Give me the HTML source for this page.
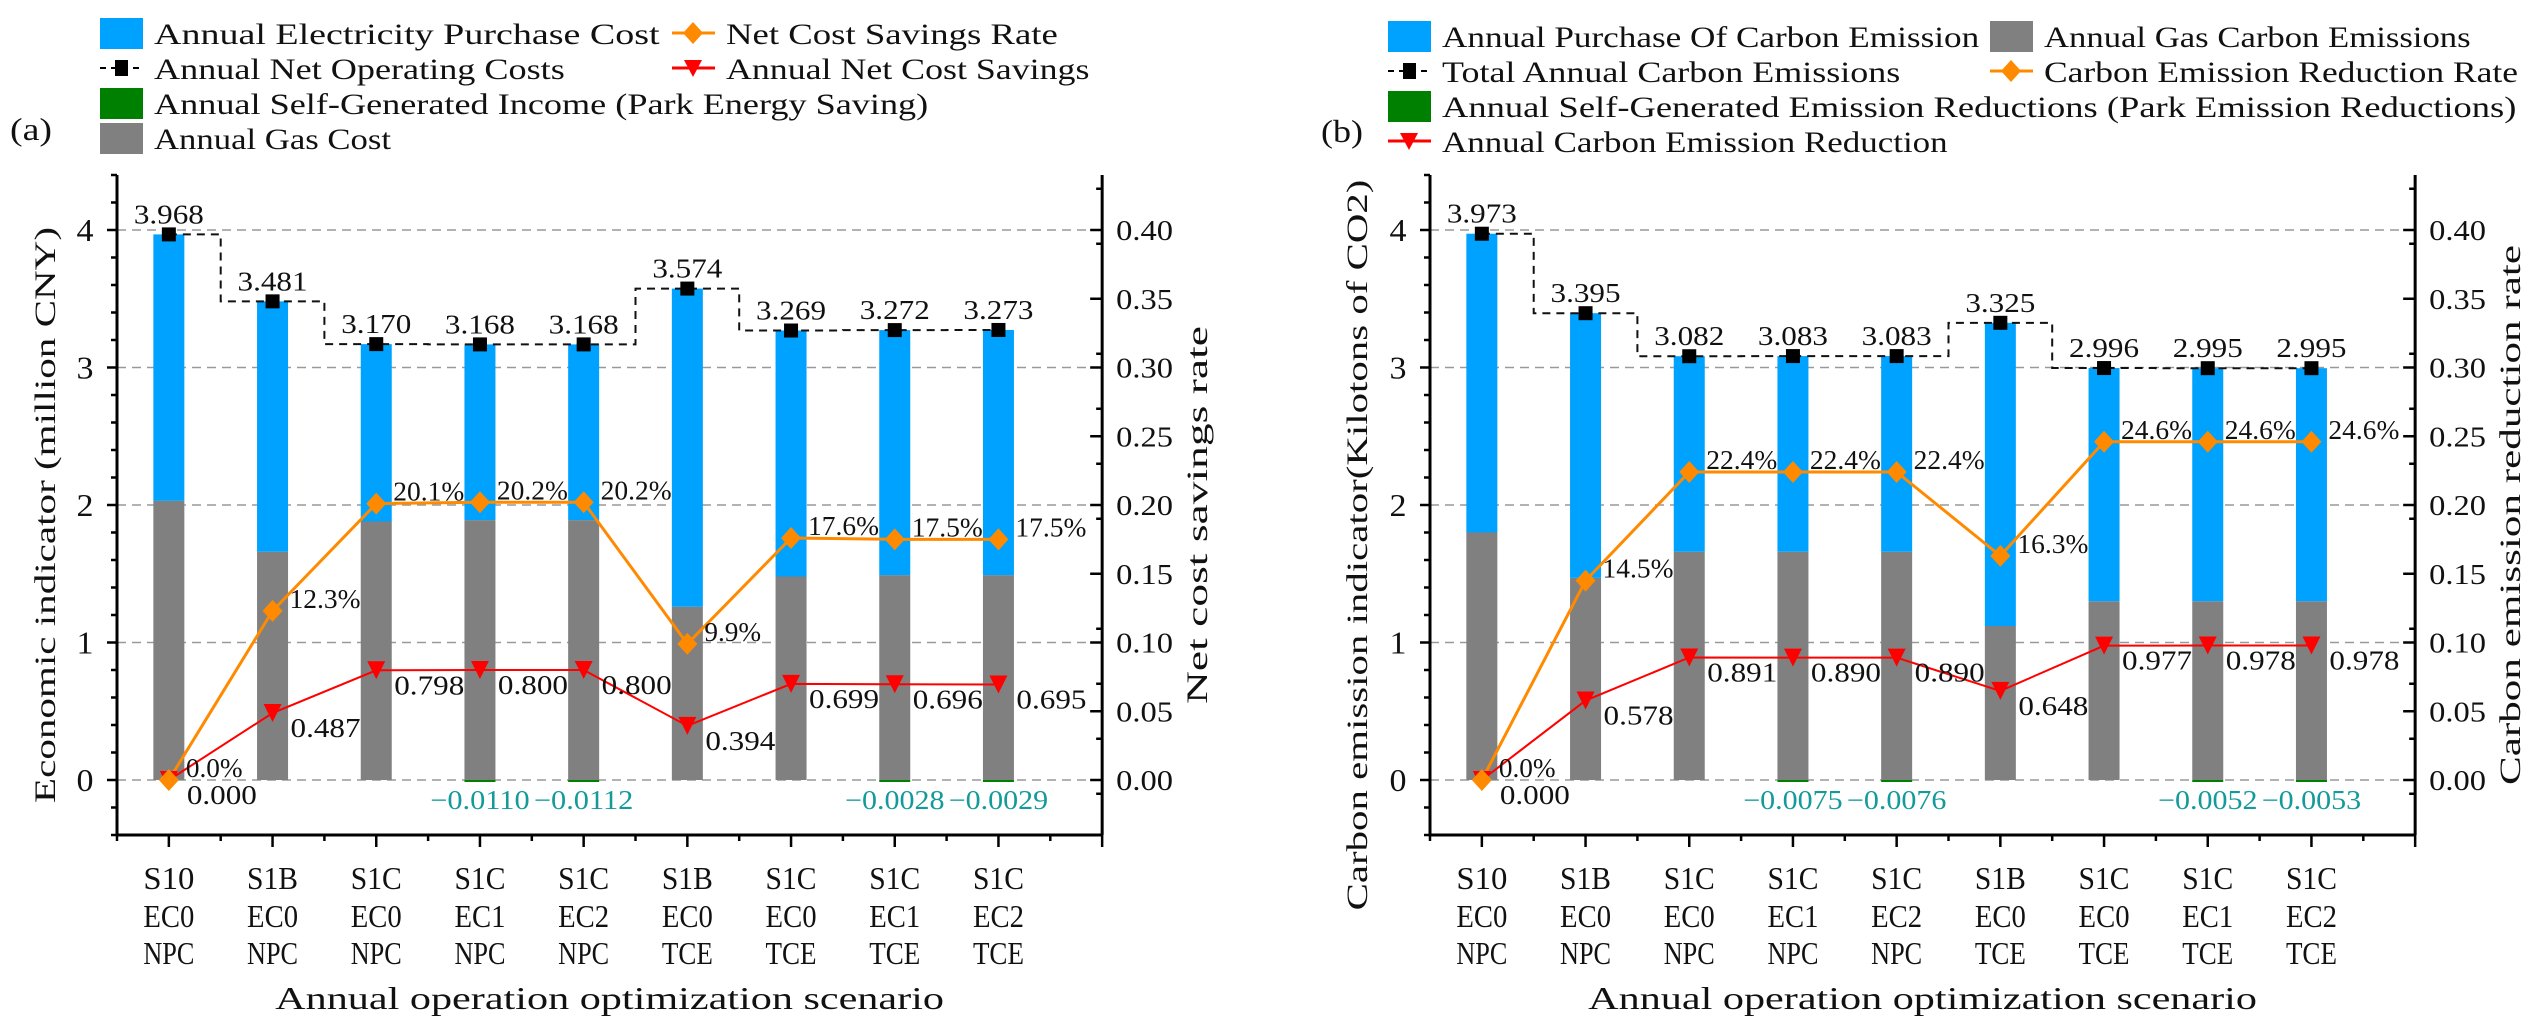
<!DOCTYPE html>
<html><head><meta charset="utf-8">
<style>
html,body{margin:0;padding:0;background:#fff;}
svg{display:block;}
text{font-family:"Liberation Serif","Noto Serif CJK SC",serif;fill:#111;}
</style></head>
<body>
<svg id="fig" width="2538" height="1030" viewBox="0 0 2538 1030" xmlns="http://www.w3.org/2000/svg"></svg>
<script>
// ---- shared categories ----
const catLine1 = ['S10','S1B','S1C','S1C','S1C','S1B','S1C','S1C','S1C'];
const catLine2 = ['EC0','EC0','EC0','EC1','EC2','EC0','EC0','EC1','EC2'];
const catLine3 = ['NPC','NPC','NPC','NPC','NPC','TCE','TCE','TCE','TCE'];
// ---- chart (a) ----
const totalA = [3.968,3.481,3.170,3.168,3.168,3.574,3.269,3.272,3.273];
const gasA   = [2.03,1.66,1.88,1.89,1.89,1.26,1.48,1.49,1.49];
const selfA  = [0,0,0,-0.0110,-0.0112,0,0,-0.0028,-0.0029];
const rateA  = [0.000,0.123,0.201,0.202,0.202,0.099,0.176,0.175,0.175];
const saveA  = [0.000,0.487,0.798,0.800,0.800,0.394,0.699,0.696,0.695];
// ---- chart (b) ----
const totalB = [3.973,3.395,3.082,3.083,3.083,3.325,2.996,2.995,2.995];
const gasB   = [1.80,1.47,1.66,1.66,1.66,1.12,1.30,1.30,1.30];
const selfB  = [0,0,0,-0.0075,-0.0076,0,0,-0.0052,-0.0053];
const rateB  = [0.000,0.145,0.224,0.224,0.224,0.163,0.246,0.246,0.246];
const saveB  = [0.000,0.578,0.891,0.890,0.890,0.648,0.977,0.978,0.978];
const leftTicks = [0,1,2,3,4];
const rightTicks = ['0.00','0.05','0.10','0.15','0.20','0.25','0.30','0.35','0.40'];

const NS='http://www.w3.org/2000/svg';
const svg=document.getElementById('fig');
const BLUE='#00A2FF',GRAY='#808080',GREEN='#008000',ORANGE='#FF8A00',RED='#FF0000',TEAL='#149A9A';
function el(tag,attrs,parent){const e=document.createElementNS(NS,tag);for(const k in attrs)e.setAttribute(k,attrs[k]);(parent||svg).appendChild(e);return e;}
function txt(x,y,s,size,cw,anchor,fill,parent,rot){
  const t=el('text',{x:x,y:y,'font-size':size,'text-anchor':anchor||'start',textLength:s.length*cw,lengthAdjust:'spacingAndGlyphs'},parent);
  if(fill)t.setAttribute('style','fill:'+fill);
  if(rot)t.setAttribute('transform','rotate(-90 '+x+' '+y+')');
  t.textContent=s;return t;
}
const Y0=780,UNIT=137.5,STEP=103.7;
function yv(v){return Y0-UNIT*v;}
function yr(r){return Y0-UNIT*r*10;}

function drawChart(id,ox,total,gas,self,rate,save,texts){
  const g=el('g',{});
  
  
  const rx=ox+9.5*STEP;
  const xs=i=>ox+(i+0.5)*STEP;
  leftTicks.forEach(v=>{const l=el('line',{x1:ox,x2:rx,y1:yv(v),y2:yv(v),stroke:'#999','stroke-width':1.5,'stroke-dasharray':'9,6'},g);
    });
  total.forEach((t,i)=>{
    const cx=xs(i);
    const gb=el('rect',{x:cx-15.5,y:yv(gas[i]),width:31,height:yv(0)-yv(gas[i]),fill:GRAY},g);
    
    const bb=el('rect',{x:cx-15.5,y:yv(t),width:31,height:yv(gas[i])-yv(t),fill:BLUE},g);
    
    if(self[i]<0){const sb=el('rect',{x:cx-15.5,y:yv(0),width:31,height:Math.max(2,yv(self[i])-yv(0)),fill:GREEN},g);
      
      const sl=txt(cx,809,self[i].toFixed(4).replace('-','\u2212'),27,14.2,'middle',TEAL,g);
      }
  });
  let d='M'+xs(0)+' '+yv(total[0]);
  for(let i=1;i<total.length;i++){const mx=ox+i*STEP;d+=' L'+mx+' '+yv(total[i-1])+' L'+mx+' '+yv(total[i])+' L'+xs(i)+' '+yv(total[i]);}
  const st=el('path',{d:d,fill:'none',stroke:'#111','stroke-width':2,'stroke-dasharray':'8,6'},g);
  
  const rp=el('polyline',{points:rate.map((r,i)=>xs(i)+','+yr(r)).join(' '),fill:'none',stroke:ORANGE,'stroke-width':3},g);
  
  const sp=el('polyline',{points:save.map((s,i)=>xs(i)+','+yv(s)).join(' '),fill:'none',stroke:RED,'stroke-width':2},g);
  
  total.forEach((t,i)=>{
    const cx=xs(i);
    const m=el('rect',{x:cx-7,y:yv(t)-7,width:14,height:14,fill:'#000'},g);
    
    const tl=txt(cx,yv(t)-11,t.toFixed(3),27,14,'middle',null,g);
    
    const sy=yv(save[i]);
    const tri=el('polygon',{points:(cx-9)+','+(sy-9)+' '+(cx+9)+','+(sy-9)+' '+cx+','+(sy+9),fill:RED},g);
    
    const sl=txt(cx+18,sy+24,save[i].toFixed(3),27,14,'start',null,g);
    
    const ry=yr(rate[i]);
    const dm=el('polygon',{points:cx+','+(ry-11)+' '+(cx+10)+','+ry+' '+cx+','+(ry+11)+' '+(cx-10)+','+ry,fill:ORANGE},g);
    
    const s=(rate[i]*100).toFixed(1)+'%';
    const rl=txt(cx+17,ry-3,s,27,14.2,'start',null,g);
    
  });
  const ax=el('path',{d:'M'+ox+' 175 L'+ox+' 835 L'+rx+' 835 M'+rx+' 175 L'+rx+' 835',fill:'none',stroke:'#000','stroke-width':3},g);
  
  for(let k=-2;k<=22;k++){const v=k*0.2;const y=yv(v);const major=(k%5===0);
    el('line',{x1:ox-(major?10:6),x2:ox,y1:y,y2:y,stroke:'#000','stroke-width':2.5},g);
    const yy=yv(v-0.1);
    if(yy<=835&&yy>=175) el('line',{x1:rx-(k%2===0?6:0),x2:rx,y1:yy,y2:yy,stroke:'#000','stroke-width':2.5},g);
  }
  for(let k=-4;k<=8;k++){const y=yr(k*0.05);if(y<=835&&y>=175)el('line',{x1:rx-12,x2:rx,y1:y,y2:y,stroke:'#000','stroke-width':2.5},g);}
  leftTicks.forEach(v=>{const t=txt(ox-32,yv(v)+11,String(v),32,17,'middle',null,g);});
  rightTicks.forEach((s,k)=>{const t=txt(rx+14,yr(parseFloat(s))+10,s,28,14.2,'start',null,g);});
  for(let i=0;i<=19;i++){const x=ox+i*STEP/2;const major=(i%2===1);
    el('line',{x1:x,x2:x,y1:835,y2:835+(major?12:6),stroke:'#000','stroke-width':2.5},g);}
  catLine1.forEach((c,i)=>{const cx=xs(i);
    const a=txt(cx,889,c,32,17,'middle',null,g);
    const b=txt(cx,927,catLine2[i],32,17,'middle',null,g);
    const e=txt(cx,964,catLine3[i],32,17,'middle',null,g);});
  const xt=txt((ox+rx)/2,1009,'Annual operation optimization scenario',32,17.6,'middle',null,g);
  
  const yt=txt(texts.ytx,texts.yty,texts.ytitle,30,texts.ytcw,'middle',null,g,true);
  
  const y2=txt(texts.y2x,515,texts.y2title,30,18,'middle',null,g,true);
  
}
drawChart('economic',117,totalA,gasA,selfA,rateA,saveA,{ytx:55,yty:515,ytitle:'Economic indicator (million CNY)',ytcw:18,y2x:1207,y2title:'Net cost savings rate'});
drawChart('carbon',1430,totalB,gasB,selfB,rateB,saveB,{ytx:1367,yty:545,ytitle:'Carbon emission indicator(Kilotons of CO2)',ytcw:17.4,y2x:2520,y2title:'Carbon emission reduction rate'});

function legendBox(x,y,color,label,name){
  const r=el('rect',{x:x,y:y-15,width:43,height:31,fill:color});
  
  const t=txt(x+54,y+11,label,30,15.8,'start');
  
}
function legendLine(x,y,kind,label,name){
  if(kind==='step'){el('line',{x1:x,x2:x+43,y1:y,y2:y,stroke:'#000','stroke-width':2,'stroke-dasharray':'6,5'});el('rect',{x:x+15,y:y-8,width:13,height:16,fill:'#000'});}
  else if(kind==='rate'){el('line',{x1:x,x2:x+43,y1:y,y2:y,stroke:ORANGE,'stroke-width':3});el('polygon',{points:(x+21)+','+(y-11)+' '+(x+31)+','+y+' '+(x+21)+','+(y+11)+' '+(x+11)+','+y,fill:ORANGE});}
  else {el('line',{x1:x,x2:x+43,y1:y,y2:y,stroke:RED,'stroke-width':3});el('polygon',{points:(x+12)+','+(y-8)+' '+(x+30)+','+(y-8)+' '+(x+21)+','+(y+9),fill:RED});}
  const t=txt(x+54,y+11,label,30,15.8,'start');
  
}
legendBox(100,33,BLUE,'Annual Electricity Purchase Cost','legend-electricity-cost');
legendLine(100,68,'step','Annual Net Operating Costs','legend-net-operating-costs');
legendBox(100,103,GREEN,'Annual Self-Generated Income (Park Energy Saving)','legend-self-generated-income');
legendBox(100,138,GRAY,'Annual Gas Cost','legend-gas-cost');
legendLine(672,33,'rate','Net Cost Savings Rate','legend-net-cost-savings-rate');
legendLine(672,68,'save','Annual Net Cost Savings','legend-net-cost-savings');
const pa=txt(31,140,'(a)',32,14,'middle');

legendBox(1388,36,BLUE,'Annual Purchase Of Carbon Emission','legend-purchase-carbon');
legendLine(1388,71,'step','Total Annual Carbon Emissions','legend-total-carbon');
legendBox(1388,106,GREEN,'Annual Self-Generated Emission Reductions (Park Emission Reductions)','legend-self-generated-reductions');
legendLine(1388,141,'save','Annual Carbon Emission Reduction','legend-carbon-reduction');
legendBox(1990,36,GRAY,'Annual Gas Carbon Emissions','legend-gas-carbon');
legendLine(1990,71,'rate','Carbon Emission Reduction Rate','legend-carbon-reduction-rate');
const pb=txt(1342,142,'(b)',32,14,'middle');
</script>
</body></html>
